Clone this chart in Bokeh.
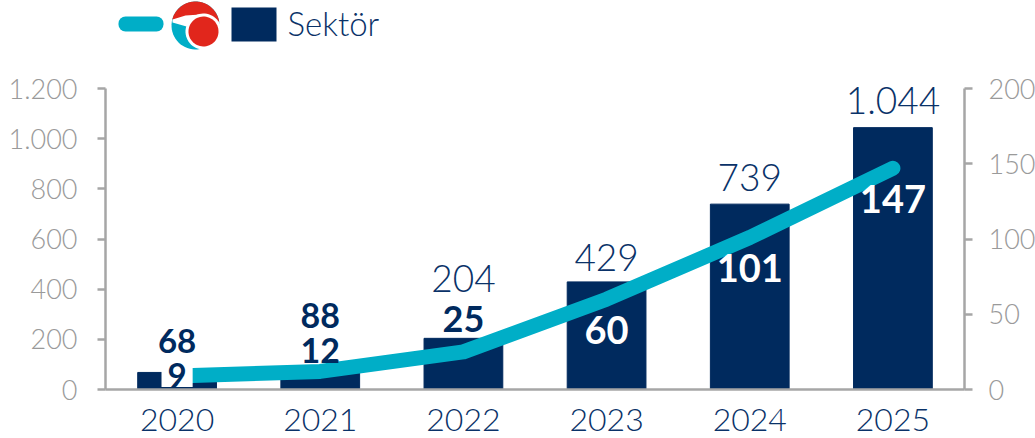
from bokeh.plotting import figure
from bokeh.embed import file_html
from bokeh.resources import INLINE
from bokeh.core.properties import value
from bokeh.models import (ColumnDataSource, Range1d, LinearAxis, FixedTicker, BoxAnnotation,
                          PolyAnnotation, Label, FactorRange)
import numpy as np

years = ["2020", "2021", "2022", "2023", "2024", "2025"]
sector = [68, 88, 204, 429, 739, 1044]
airline = [9, 12, 25, 60, 101, 147]
sector_labels = ["68", "88", "204", "429", "739", "1.044"]
airline_labels = ["9", "12", "25", "60", "101", "147"]
left_ticks = [0, 200, 400, 600, 800, 1000, 1200]
left_tick_labels = ["0", "200", "400", "600", "800", "1.000", "1.200"]
right_ticks = [0, 50, 100, 150, 200]
legend_label = "Sektör"

NAVY = "#002A5E"
TEAL = "#00AEC7"
RED = "#E1261C"
GRAY = "#9A9A9A"
LINEGRAY = "#A6A6A6"
TEXT = "#0A3268"
FONT = "Lato Light"
BOLD = "Lato"

# the frame reaches up to the canvas top so that the legend fits inside it
FRAME_H = 389
AXIS_H = 301
LEFT_MAX = 1200 * FRAME_H / AXIS_H
RIGHT_MAX = 200 * FRAME_H / AXIS_H

p = figure(x_range=FactorRange(*years, range_padding=0, factor_padding=0), y_range=Range1d(0, LEFT_MAX),
           frame_width=859, frame_height=FRAME_H, width=1035, height=438,
           min_border_left=105, min_border_right=71, min_border_top=0, min_border_bottom=49,
           output_backend="svg", toolbar_location=None, outline_line_color=None,
           background_fill_color="white", border_fill_color="white")
p.x_range.range_padding = 0
p.grid.visible = False
p.extra_y_ranges = {"r": Range1d(0, RIGHT_MAX)}

src = ColumnDataSource(dict(year=years, sector=sector, airline=airline))
p.vbar(x="year", top="sector", width=0.55, color=NAVY, source=src)
p.line(x="year", y="airline", y_range_name="r", line_color=TEAL, line_width=15, line_cap="round",
       line_join="round", source=src)

def labels(idx, ycol, txt, offs, size, color, font, style="normal", **kw):
    vals = sector if ycol == "sector" else airline
    s = ColumnDataSource(dict(year=[years[i] for i in idx], v=[vals[i] for i in idx],
                              t=[txt[i] for i in idx], off=offs))
    if ycol == "airline":
        kw["y_range_name"] = "r"
    p.text(x="year", y="v", text="t", y_offset="off", source=s, text_font=value(font),
           text_font_style=style, text_font_size=size, text_color=color,
           text_align="center", text_baseline="middle", **kw)

labels([0], "sector", sector_labels, [-31], "33px", NAVY, BOLD, "bold")
labels([1], "sector", sector_labels, [-52], "34px", NAVY, BOLD, "bold")
labels([2, 3, 4, 5], "sector", sector_labels, [-60, -24, -27, -27], "37px", TEXT, FONT)
labels([0], "airline", airline_labels, [-1], "33px", NAVY, BOLD, "bold", background_fill_color="white", padding=(6, 0))
labels([1], "airline", airline_labels, [-21], "34px", NAVY, BOLD, "bold")
labels([2], "airline", airline_labels, [-33], "36px", NAVY, BOLD, "bold")
labels([3, 4, 5], "airline", airline_labels, [31, 31, 31], "38px", "white", BOLD, "bold")

# axes
ax = p.yaxis[0]
ax.ticker = FixedTicker(ticks=left_ticks)
ax.bounds = (0, 1200)
ax.major_label_overrides = {t: l for t, l in zip(left_ticks, left_tick_labels)}
ra = LinearAxis(y_range_name="r", ticker=FixedTicker(ticks=right_ticks), bounds=(0, 200))
p.add_layout(ra, "right")
for a in (ax, ra):
    a.axis_line_color = LINEGRAY
    a.axis_line_width = 2.5
    a.major_tick_line_color = LINEGRAY
    a.major_tick_line_width = 2.5
    a.major_tick_in = 0
    a.major_tick_out = 8
    a.minor_tick_line_color = None
    a.major_label_text_font = FONT
    a.major_label_text_font_size = "27px"
    a.major_label_text_color = GRAY
    a.major_label_standoff = 20
ra.major_label_standoff = 16
xa = p.xaxis[0]
xa.axis_line_color = LINEGRAY
xa.axis_line_width = 2.5
xa.major_tick_line_color = None
xa.minor_tick_line_color = None
xa.major_label_text_font = FONT
xa.major_label_text_font_size = "32px"
xa.major_label_text_color = TEXT
xa.major_label_standoff = 13

# legend (screen space, relative to the plot frame)
def box(l, r, t, b, color, **kw):
    p.add_layout(BoxAnnotation(left=l, right=r, top=t, bottom=b, left_units="screen", right_units="screen",
                               top_units="screen", bottom_units="screen", fill_color=color, fill_alpha=1,
                               line_color=None, **kw))
box(13, 58, 373, 358, TEAL, border_radius=7)
box(126, 171, 382, 348, NAVY)
p.add_layout(Label(x=182, y=367, x_units="screen", y_units="screen", text=legend_label, text_font=FONT,
                   text_font_size="33px", text_color=TEXT, text_baseline="middle"))

def circle(cx, cy, r, a0=0, a1=2*np.pi, n=60):
    t = np.linspace(a0, a1, n)
    return list(cx + r*np.cos(t)), list(cy + r*np.sin(t))
def poly(xs, ys, color):
    p.add_layout(PolyAnnotation(xs=list(xs), ys=list(ys), xs_units="screen", ys_units="screen",
                                fill_color=color, fill_alpha=1, line_color=None))
cx, cy = 90, 364
poly(*circle(cx, cy, 24), TEAL)
poly(*circle(cx, cy, 24, 0.05*np.pi, 0.92*np.pi), RED)
# white swoosh under the red cap, and the crescent around the inner disc
poly([cx-23, cx-10, cx+5, cx+23, cx+16, cx+5, cx-5, cx-9, cx-23],
     [cy+6, cy+10, cy+11, cy+4, cy-2, cy+4, cy-1, cy-1, cy+3], "white")
poly(*circle(cx+8, cy-6, 18), "white")
poly(*circle(cx+8, cy-6, 15), RED)

open("out.html", "w").write(file_html(p, INLINE))
